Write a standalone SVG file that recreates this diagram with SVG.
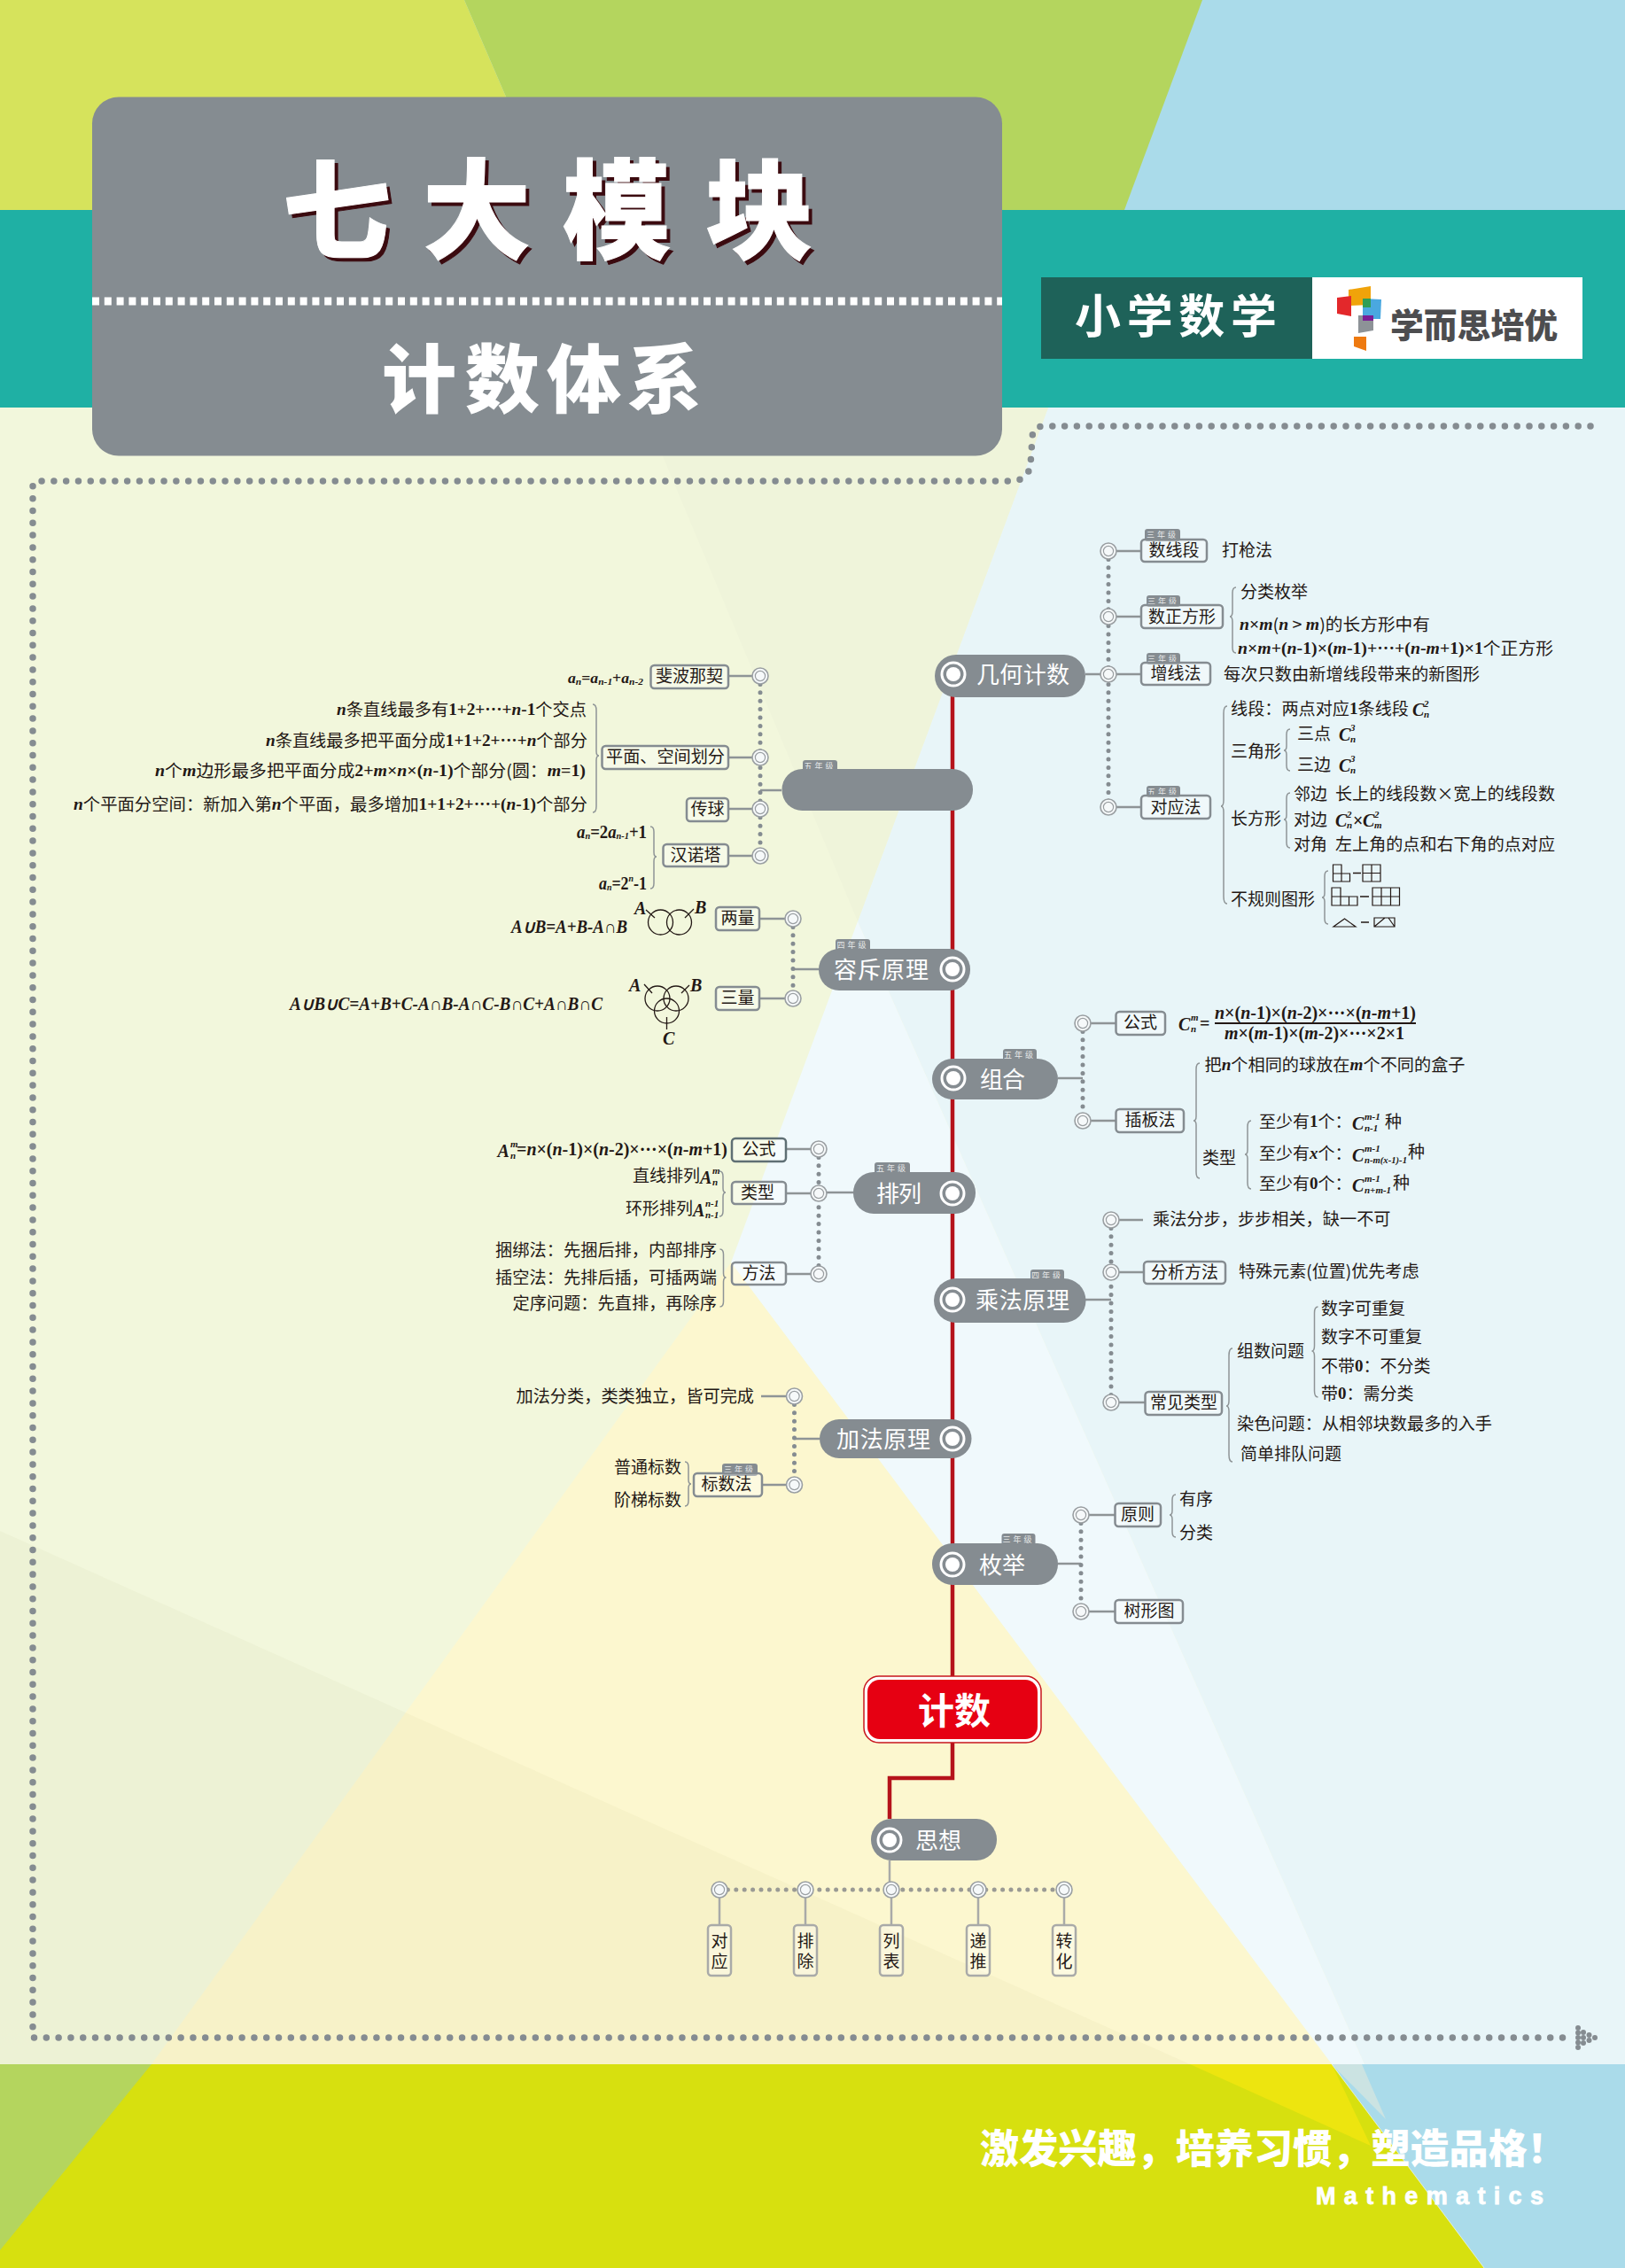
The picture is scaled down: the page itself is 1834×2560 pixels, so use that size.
<svg xmlns="http://www.w3.org/2000/svg" width="1834" height="2560" viewBox="0 0 1834 2560">
<style>
text{font-family:"Noto Sans CJK SC","Noto Sans",sans-serif;dominant-baseline:central}
.t{font-size:19px;fill:#231815;transform:translate(0,-1.5px)}
.c{text-anchor:middle}
.m{font-family:"Liberation Serif",serif;font-weight:bold;font-style:italic}
.n{font-family:"Liberation Serif",serif;font-weight:bold}
.s{font-family:"Liberation Serif",serif;font-weight:bold;font-style:italic;font-size:11px;fill:#231815}
.mt{font-size:20px;fill:#231815}
.w{fill:#fff}
.pt{font-size:26px;fill:#fff;transform:translate(0,-2px)}
.bx{fill:#fff;fill-opacity:.35;stroke:#858c91;stroke-width:2.5}
.pill{fill:#858c91}
.tag{fill:#858c91}
.tt{font-size:9px;fill:#e6e8e8;text-anchor:middle;letter-spacing:3px}
.ln{stroke:#8e9496;stroke-width:2.5;fill:none}
.dt{stroke:#858c91;stroke-width:5;fill:none;stroke-dasharray:0 9.4;stroke-linecap:round}
.br{fill:none;stroke:#8e9496;stroke-width:1.5}
.k{fill:none;stroke:#231815;stroke-width:1.3}
.g{fill:none;stroke:#231815;stroke-width:1.2}
.fd{fill:#858c91}
</style>
<defs>
<g id="ring"><circle r="9" fill="#f6f9fa" stroke="#9a9fa2" stroke-width="1.6"/><circle r="5.6" fill="#f6f9fa" stroke="#9a9fa2" stroke-width="1.2"/></g>
<g id="tgt"><circle r="13" fill="none" stroke="#fff" stroke-width="3"/><circle r="8" fill="#fff"/></g>
</defs>

<g id="background">
<rect width="1834" height="237" fill="#aadbea"/>
<polygon points="524,0 1357,0 1269,237 626,237" fill="#b4d55e"/>
<polygon points="0,0 524,0 626,237 0,237" fill="#d6e35c"/>
<rect y="237" width="1834" height="223" fill="#1fb0a4"/>
<rect y="460" width="1834" height="1870" fill="#f2f7dc"/>
<polygon points="1183,460 1834,460 1834,2330 1540,2330 968,1040" fill="#e8f5f8"/>
<polygon points="725,460 1183,460 968,1040" fill="#eff4da"/>
<polygon points="968,1040 1540,2330 1503,2330 825,1425" fill="#f0f9fc"/>
<polygon points="825,1425 1503,2330 171,2330" fill="#fcf7cf"/>
<polygon points="0,1728 1343,2330 0,2330" fill="#7d7d20" fill-opacity=".035"/>
<rect y="2330" width="1834" height="230" fill="#d7e00f"/>
<polygon points="1503,2330 1834,2330 1834,2560 1675,2560" fill="#aadbea"/>
<polygon points="1503,2330 1537,2330 1564,2392" fill="#cbe3e2"/>
<polygon points="1343,2330 1503,2330 1547,2422" fill="#ede50f"/>
<polygon points="0,2330 171,2330 0,2540" fill="#b4d55e"/>
<line x1="1503" y1="2330" x2="1675" y2="2560" stroke="#fff" stroke-opacity=".6"/>
</g>

<g id="frame">
<path d="M1795 481L1178 481Q1165 481 1165 495L1163 525Q1160 543 1140 543L41 543Q37 543 37 550L37 2300L1771 2300" fill="none" stroke="#858c91" stroke-width="7.5" stroke-dasharray="0 13.8" stroke-linecap="round"/>
<g class="fd"><circle cx="1781" cy="2289" r="3"/><circle cx="1781" cy="2294.500" r="3"/><circle cx="1781" cy="2300" r="3"/><circle cx="1781" cy="2305.500" r="3"/><circle cx="1781" cy="2311" r="3"/><circle cx="1787" cy="2294" r="3"/><circle cx="1787" cy="2300" r="3"/><circle cx="1787" cy="2306" r="3"/><circle cx="1793.500" cy="2297" r="3"/><circle cx="1793.500" cy="2303" r="3"/><circle cx="1800" cy="2300" r="3"/></g>
</g>

<g id="title">
<rect x="104" y="109.500" width="1027" height="405" rx="30" fill="#858c91"/>
<g font-size="122" font-weight="900" fill="#3b0a0f" stroke="#3b0a0f" stroke-width="1">
<text x="384" y="232" class="c">七</text><text x="542" y="232" class="c">大</text><text x="700" y="232" class="c">模</text><text x="861" y="232" class="c">块</text></g>
<g font-size="122" font-weight="900" fill="#fff" stroke="#fff" stroke-width="1">
<text x="380" y="228" class="c">七</text><text x="538" y="228" class="c">大</text><text x="696" y="228" class="c">模</text><text x="857" y="228" class="c">块</text></g>
<line x1="104" y1="340" x2="1131" y2="340" stroke="#fff" stroke-width="9" stroke-dasharray="8 5.800"/>
<g font-size="84" font-weight="900" fill="#fff"><text x="473" y="422" class="c">计</text><text x="567" y="422" class="c">数</text><text x="659" y="422" class="c">体</text><text x="750" y="422" class="c">系</text></g>
</g>

<g id="badge">
<rect x="1175" y="313" width="306" height="92" fill="#1e6259"/>
<rect x="1481" y="313" width="305" height="92" fill="#fff"/>
<text x="1327" y="353" class="c" font-size="52" font-weight="700" fill="#fff" textLength="228" lengthAdjust="spacing">小学数学</text>
<polygon points="1522,327 1547,323 1547,344 1522,345" fill="#f0a30a"/>
<polygon points="1509,336 1525,334 1525,357 1509,354" fill="#e3282b"/>
<polygon points="1538,337 1559,338 1558,360 1538,360" fill="#4aa8e0"/>
<polygon points="1538,337 1547,337 1547,347 1538,347" fill="#2f9e55"/>
<polygon points="1533,356 1550,356 1550,373 1533,376" fill="#8d9297"/>
<polygon points="1538,356 1550,356 1550,362 1538,362" fill="#7a1d96"/>
<polygon points="1528,380 1542,380 1542,396 1528,391" fill="#ee7a10"/>
<text x="1569" y="364" font-size="38" font-weight="900" fill="#4d4d4f" textLength="189" lengthAdjust="spacingAndGlyphs">学而思培优</text>
</g>

<g id="connectors">
<path d="M1075 763V1892M1075 1967V2007H1004V2053" fill="none" stroke="#b5131b" stroke-width="4.500"/>
<g class="ln">
<path d="M1225 761H1288M1251 622H1288M1251 696H1288M1251 911H1288"/>
<path d="M882 892H858M858 763H822M858 855H822M858 913H822M858 966H822"/>
<path d="M924 1094H895M895 1037H857M895 1127H857"/>
<path d="M1194 1217H1222M1222 1155H1260M1222 1265H1260"/>
<path d="M963 1346H924M924 1297H887M924 1347H887M924 1438H887"/>
<path d="M1225 1467H1254M1254 1377H1290M1254 1436H1291M1254 1583H1292"/>
<path d="M925 1624H896.500M896.500 1576H859M896.500 1676H860"/>
<path d="M1194 1765H1220M1220 1710H1259M1220 1819H1259"/>
</g>
<g class="dt">
<path d="M1251 622V911"/><path d="M858 763V966"/><path d="M895 1037V1127"/><path d="M1222 1155V1265"/><path d="M924 1297V1438"/><path d="M1254 1377V1583"/><path d="M896.500 1576V1676"/><path d="M1220 1710V1819"/>
<path d="M812 2133H1201" stroke="#9a9a94"/>
</g>
<path d="M1004 2100V2133M812 2133V2173M909 2133V2173M1006 2133V2173M1104 2133V2173M1201 2133V2173" fill="none" stroke="#a9aaa8" stroke-width="2.500"/>
</g>

<g id="node-jishu">
<rect x="975" y="1892" width="200" height="75" rx="17" fill="#fff" stroke="#c8161d" stroke-width="1.500"/>
<rect x="979" y="1896" width="192" height="67" rx="14" fill="#e60012"/>
<text x="1077" y="1928" class="c" font-size="41" font-weight="700" fill="#fff">计数</text>
</g>

<g id="node-jihe">
<rect x="1055" y="739" width="170" height="48" rx="24" class="pill"/><use href="#tgt" x="1076" y="761"/>
<text x="1102" y="761" class="pt" textLength="105">几何计数</text>
<use href="#ring" x="1251" y="622"/><use href="#ring" x="1251" y="696"/><use href="#ring" x="1251" y="761"/><use href="#ring" x="1251" y="911"/>
<rect x="1292" y="597" width="40" height="14" rx="3" class="tag"/><text x="1312" y="603" class="tt">三年级</text>
<rect x="1288" y="609" width="74" height="25" rx="4" class="bx"/><text x="1325" y="621" class="t c">数线段</text>
<text x="1379" y="621" class="t">打枪法</text>
<rect x="1294" y="672" width="38" height="13" rx="3" class="tag"/><text x="1313" y="678" class="tt">三年级</text>
<rect x="1288" y="683" width="92" height="26" rx="4" class="bx"/><text x="1334" y="696" class="t c">数正方形</text>
<path class="br" d="M1395 663Q1391 663 1391 669V690Q1391 696 1388 696Q1391 696 1391 702V731Q1391 737 1395 737"/>
<text x="1400" y="668" class="t">分类枚举</text>
<text x="1399" y="705" class="t" textLength="215" lengthAdjust="spacingAndGlyphs"><tspan class="m">n</tspan><tspan class="n">×</tspan><tspan class="m">m</tspan>(<tspan class="m">n</tspan> &gt; <tspan class="m">m</tspan>)的长方形中有</text>
<text x="1397" y="732" class="t" textLength="356" lengthAdjust="spacingAndGlyphs"><tspan class="m">n</tspan><tspan class="n">×</tspan><tspan class="m">m</tspan><tspan class="n">+(</tspan><tspan class="m">n</tspan><tspan class="n">-1)×(</tspan><tspan class="m">m</tspan><tspan class="n">-1)+···+(</tspan><tspan class="m">n</tspan><tspan class="n">-</tspan><tspan class="m">m</tspan><tspan class="n">+1)×1</tspan>个正方形</text>
<rect x="1294" y="737" width="38" height="13" rx="3" class="tag"/><text x="1313" y="743" class="tt">三年级</text>
<rect x="1288" y="748" width="78" height="25" rx="4" class="bx"/><text x="1327" y="760" class="t c">增线法</text>
<text x="1381" y="761" class="t" textLength="289" lengthAdjust="spacingAndGlyphs">每次只数由新增线段带来的新图形</text>
<rect x="1294" y="887" width="38" height="13" rx="3" class="tag"/><text x="1313" y="893" class="tt">五年级</text>
<rect x="1288" y="898" width="78" height="26" rx="4" class="bx"/><text x="1327" y="911" class="t c">对应法</text>
<path class="br" d="M1385 797Q1381 797 1381 805V903Q1381 910 1378 910Q1381 910 1381 917V1012Q1381 1020 1385 1020"/>
<text x="1389" y="800" class="t" textLength="201" lengthAdjust="spacingAndGlyphs">线段：两点对应<tspan class="n">1</tspan>条线段</text>
<text x="1594" y="801" class="m mt">C</text><text x="1607" y="794" class="s">2</text><text x="1607" y="806" class="s">n</text>
<text x="1389" y="848" class="t">三角形</text>
<path class="br" d="M1456 823Q1452 823 1452 829V842Q1452 847 1449 847Q1452 847 1452 852V864Q1452 870 1456 870"/>
<text x="1464" y="828" class="t">三点</text><text x="1511" y="829" class="m mt">C</text><text x="1524" y="821" class="s">3</text><text x="1524" y="834" class="s">n</text>
<text x="1464" y="863" class="t">三边</text><text x="1511" y="864" class="m mt">C</text><text x="1524" y="856" class="s">3</text><text x="1524" y="869" class="s">n</text>
<text x="1389" y="924" class="t">长方形</text>
<path class="br" d="M1456 895Q1452 895 1452 901V920Q1452 925 1449 925Q1452 925 1452 930V951Q1452 957 1456 957"/>
<text x="1460" y="896" class="t">邻边</text><text x="1507" y="896" class="t" textLength="248" lengthAdjust="spacingAndGlyphs">长上的线段数×宽上的线段数</text>
<text x="1460" y="925" class="t">对边</text><text x="1507" y="926" class="m mt">C</text><text x="1520" y="919" class="s">2</text><text x="1520" y="931" class="s">n</text><text x="1527" y="926" class="n mt">×</text><text x="1538" y="926" class="m mt">C</text><text x="1551" y="919" class="s">2</text><text x="1551" y="931" class="s">m</text>
<text x="1460" y="953" class="t">对角</text><text x="1507" y="953" class="t" textLength="248" lengthAdjust="spacingAndGlyphs">左上角的点和右下角的点对应</text>
<text x="1389" y="1015" class="t">不规则图形</text>
<path class="br" d="M1499 983Q1495 983 1495 989V1008Q1495 1013 1492 1013Q1495 1013 1495 1018V1037Q1495 1043 1499 1043"/>
<path class="g" d="M1504.500 976H1514V995H1504.500ZM1504.500 986H1523.500V995H1504.500ZM1538 976H1558V995H1538ZM1548 976V995M1538 985.500H1558"/>
<path class="g" d="M1503 1002H1513V1022H1503ZM1503 1012H1532V1022H1503ZM1522.500 1012V1022M1549 1002H1579.500V1022H1549ZM1559 1002V1022M1569.500 1002V1022M1549 1012H1579.500"/>
<path class="g" d="M1505 1046H1530L1517.500 1037ZM1551 1036H1574V1046H1551ZM1551 1046L1563 1036M1574 1046L1567 1036"/>
<path d="M1527 985.500H1536M1535 1012H1545M1536 1041H1545" stroke="#231815" stroke-width="1.500" fill="none"/>
</g>

<g id="node-digui">
<rect x="906" y="858" width="39" height="14" rx="3" class="tag"/><text x="925.500" y="864" class="tt">五年级</text>
<rect x="882.500" y="868" width="215.500" height="47" rx="23" class="pill"/>
<use href="#ring" x="858" y="763"/><use href="#ring" x="858" y="855"/><use href="#ring" x="858" y="913"/><use href="#ring" x="858" y="966"/>
<rect x="734.500" y="751" width="87.500" height="26" rx="4" class="bx"/><text x="778" y="763" class="t c">斐波那契</text>
<text x="641" y="765" font-size="17" fill="#231815" textLength="85" lengthAdjust="spacingAndGlyphs"><tspan class="m">a</tspan><tspan class="s" dy="4">n</tspan><tspan class="n" dy="-4">=</tspan><tspan class="m">a</tspan><tspan class="s" dy="4">n-1</tspan><tspan class="n" dy="-4">+</tspan><tspan class="m">a</tspan><tspan class="s" dy="4">n-2</tspan></text>
<rect x="679.500" y="842" width="142.500" height="26" rx="4" class="bx"/><text x="751" y="854" class="t c" textLength="134" lengthAdjust="spacingAndGlyphs">平面、空间划分</text>
<text x="380" y="801" class="t" textLength="282" lengthAdjust="spacingAndGlyphs"><tspan class="m">n</tspan>条直线最多有<tspan class="n">1+2+···+</tspan><tspan class="m">n</tspan><tspan class="n">-1</tspan>个交点</text>
<text x="300" y="836" class="t" textLength="363" lengthAdjust="spacingAndGlyphs"><tspan class="m">n</tspan>条直线最多把平面分成<tspan class="n">1+1+2+···+</tspan><tspan class="m">n</tspan>个部分</text>
<text x="175" y="870" class="t" textLength="486" lengthAdjust="spacingAndGlyphs"><tspan class="m">n</tspan>个<tspan class="m">m</tspan>边形最多把平面分成<tspan class="n">2+</tspan><tspan class="m">m</tspan><tspan class="n">×</tspan><tspan class="m">n</tspan><tspan class="n">×(</tspan><tspan class="m">n</tspan><tspan class="n">-1)</tspan>个部分(圆：<tspan class="m">m</tspan><tspan class="n">=1)</tspan></text>
<text x="83" y="908" class="t" textLength="580" lengthAdjust="spacingAndGlyphs"><tspan class="m">n</tspan>个平面分空间：新加入第<tspan class="m">n</tspan>个平面，最多增加<tspan class="n">1+1+2+···+(</tspan><tspan class="m">n</tspan><tspan class="n">-1)</tspan>个部分</text>
<path class="br" d="M669 795Q673 795 673 802V848Q673 853 676 853Q673 853 673 858V910Q673 917 669 917"/>
<rect x="775" y="901" width="47" height="26" rx="4" class="bx"/><text x="798.500" y="913" class="t c">传球</text>
<rect x="748.500" y="953" width="73.500" height="25" rx="4" class="bx"/><text x="785" y="965" class="t c">汉诺塔</text>
<text x="651" y="939" font-size="20" fill="#231815" textLength="79" lengthAdjust="spacingAndGlyphs"><tspan class="m">a</tspan><tspan class="s" dy="4">n</tspan><tspan class="n" dy="-4">=2</tspan><tspan class="m">a</tspan><tspan class="s" dy="4">n-1</tspan><tspan class="n" dy="-4">+1</tspan></text>
<text x="676" y="997" font-size="20" fill="#231815" textLength="54" lengthAdjust="spacingAndGlyphs"><tspan class="m">a</tspan><tspan class="s" dy="4">n</tspan><tspan class="n" dy="-4">=2</tspan><tspan class="s" dy="-6">n</tspan><tspan class="n" dy="6">-1</tspan></text>
<path class="br" d="M734 933Q738 933 738 939V962Q738 967 741 967Q738 967 738 972V997Q738 1003 734 1003"/>
</g>

<g id="node-rongchi">
<rect x="943" y="1060" width="39" height="14" rx="3" class="tag"/><text x="962.500" y="1066" class="tt">四年级</text>
<rect x="924" y="1071" width="171" height="47" rx="23" class="pill"/><use href="#tgt" x="1075" y="1094"/>
<text x="941" y="1094" class="pt" textLength="107">容斥原理</text>
<use href="#ring" x="895" y="1037"/><use href="#ring" x="895" y="1127"/>
<rect x="808" y="1024" width="49" height="26" rx="4" class="bx"/><text x="832.500" y="1036" class="t c">两量</text>
<rect x="808" y="1114" width="49" height="26" rx="4" class="bx"/><text x="832.500" y="1126" class="t c">三量</text>
<text x="577" y="1046" class="m mt" textLength="131" lengthAdjust="spacingAndGlyphs">A∪B=A+B-A∩B</text>
<circle cx="745.500" cy="1041" r="14" class="k"/><circle cx="766.500" cy="1041" r="14" class="k"/>
<path class="k" d="M739 1036L729 1027M773 1036L783 1026"/>
<text x="716" y="1025" class="m mt">A</text><text x="784" y="1024" class="m mt">B</text>
<text x="327" y="1133" class="m mt" textLength="353" lengthAdjust="spacingAndGlyphs">A∪B∪C=A+B+C-A∩B-A∩C-B∩C+A∩B∩C</text>
<circle cx="742" cy="1127" r="14" class="k"/><circle cx="763" cy="1127" r="14" class="k"/><circle cx="752.500" cy="1141" r="14" class="k"/>
<path class="k" d="M736 1121L727 1111M769 1121L778 1112M752.500 1148V1162"/>
<text x="710" y="1112" class="m mt">A</text><text x="779" y="1112" class="m mt">B</text><text x="748" y="1172" class="m mt">C</text>
</g>

<g id="node-zuhe">
<rect x="1132" y="1184" width="38" height="14" rx="3" class="tag"/><text x="1151" y="1190" class="tt">五年级</text>
<rect x="1052" y="1195" width="142" height="46" rx="23" class="pill"/><use href="#tgt" x="1076" y="1217"/>
<text x="1106" y="1218" class="pt" textLength="51">组合</text>
<use href="#ring" x="1222" y="1155"/><use href="#ring" x="1222" y="1265"/>
<rect x="1259.500" y="1142" width="55.500" height="26" rx="4" class="bx"/><text x="1287" y="1154" class="t c">公式</text>
<rect x="1259.500" y="1252" width="76.500" height="26" rx="4" class="bx"/><text x="1298" y="1264" class="t c">插板法</text>
<text x="1330" y="1156" class="m mt">C</text><text x="1344" y="1148" class="s">m</text><text x="1344" y="1161" class="s">n</text><text x="1354" y="1155" class="n mt">=</text>
<text x="1371" y="1143" class="mt" textLength="227" lengthAdjust="spacingAndGlyphs"><tspan class="m">n</tspan><tspan class="n">×(</tspan><tspan class="m">n</tspan><tspan class="n">-1)×(</tspan><tspan class="m">n</tspan><tspan class="n">-2)×···×(</tspan><tspan class="m">n</tspan><tspan class="n">-</tspan><tspan class="m">m</tspan><tspan class="n">+1)</tspan></text>
<line x1="1371" y1="1155" x2="1598" y2="1155" stroke="#231815" stroke-width="1.800"/>
<text x="1382" y="1166" class="mt" textLength="203" lengthAdjust="spacingAndGlyphs"><tspan class="m">m</tspan><tspan class="n">×(</tspan><tspan class="m">m</tspan><tspan class="n">-1)×(</tspan><tspan class="m">m</tspan><tspan class="n">-2)×···×2×1</tspan></text>
<path class="br" d="M1354 1200Q1350 1200 1350 1207V1260Q1350 1265 1347 1265Q1350 1265 1350 1270V1323Q1350 1330 1354 1330"/>
<text x="1359.500" y="1202" class="t" textLength="294" lengthAdjust="spacingAndGlyphs">把<tspan class="m">n</tspan>个相同的球放在<tspan class="m">m</tspan>个不同的盒子</text>
<text x="1357" y="1307" class="t">类型</text>
<path class="br" d="M1412 1265Q1408 1265 1408 1272V1298Q1408 1303 1405 1303Q1408 1303 1408 1308V1335Q1408 1342 1412 1342"/>
<text x="1421" y="1266" class="t">至少有<tspan class="n">1</tspan>个：</text><text x="1526" y="1268" class="m mt">C</text><text x="1540" y="1260" class="s">m-1</text><text x="1540" y="1273" class="s">n-1</text><text x="1563" y="1266" class="t">种</text>
<text x="1421" y="1302" class="t">至少有<tspan class="m">x</tspan>个：</text><text x="1526" y="1304" class="m mt">C</text><text x="1540" y="1296" class="s">m-1</text><text x="1540" y="1309" class="s" textLength="48" lengthAdjust="spacingAndGlyphs">n-m(x-1)-1</text><text x="1589" y="1300" class="t">种</text>
<text x="1421" y="1336" class="t">至少有<tspan class="n">0</tspan>个：</text><text x="1526" y="1338" class="m mt">C</text><text x="1540" y="1330" class="s">m-1</text><text x="1540" y="1343" class="s">n+m-1</text><text x="1572" y="1335" class="t">种</text>
</g>

<g id="node-pailie">
<rect x="987" y="1312" width="40" height="14" rx="3" class="tag"/><text x="1007" y="1318" class="tt">五年级</text>
<rect x="963" y="1323" width="138" height="47" rx="23" class="pill"/><use href="#tgt" x="1075" y="1347"/>
<text x="989" y="1347" class="pt" textLength="51">排列</text>
<use href="#ring" x="924" y="1297"/><use href="#ring" x="924" y="1347"/><use href="#ring" x="924" y="1438"/>
<rect x="826" y="1285" width="61" height="26" rx="4" class="bx" style="stroke:#5f6f74"/><text x="856.500" y="1297" class="t c">公式</text>
<rect x="826" y="1334" width="61" height="25" rx="4" class="bx"/><text x="855" y="1346" class="t c">类型</text>
<rect x="826" y="1425" width="61" height="25" rx="4" class="bx"/><text x="856.500" y="1437" class="t c">方法</text>
<text x="561.500" y="1299" class="m mt">A</text><text x="576" y="1291" class="s">m</text><text x="576" y="1304" class="s">n</text>
<text x="583" y="1297" class="mt" textLength="238" lengthAdjust="spacingAndGlyphs"><tspan class="n">=</tspan><tspan class="m">n</tspan><tspan class="n">×(</tspan><tspan class="m">n</tspan><tspan class="n">-1)×(</tspan><tspan class="m">n</tspan><tspan class="n">-2)×···×(</tspan><tspan class="m">n</tspan><tspan class="n">-</tspan><tspan class="m">m</tspan><tspan class="n">+1)</tspan></text>
<text x="714" y="1327" class="t">直线排列</text><text x="790" y="1329" class="m mt">A</text><text x="804" y="1321" class="s">m</text><text x="804" y="1334" class="s">n</text>
<text x="706" y="1364" class="t">环形排列</text><text x="782" y="1366" class="m mt">A</text><text x="796" y="1358" class="s">n-1</text><text x="796" y="1371" class="s">n-1</text>
<path class="br" d="M812 1322Q816 1322 816 1328V1341Q816 1346 819 1346Q816 1346 816 1351V1367Q816 1373 812 1373"/>
<text x="559" y="1411" class="t" textLength="250" lengthAdjust="spacingAndGlyphs">捆绑法：先捆后排，内部排序</text>
<text x="559" y="1442" class="t" textLength="250" lengthAdjust="spacingAndGlyphs">插空法：先排后插，可插两端</text>
<text x="578.500" y="1471" class="t" textLength="230.500" lengthAdjust="spacingAndGlyphs">定序问题：先直排，再除序</text>
<path class="br" d="M812.500 1410Q816.500 1410 816.500 1416V1437Q816.500 1442 819.500 1442Q816.500 1442 816.500 1447V1469Q816.500 1475 812.500 1475"/>
</g>

<g id="node-chengfa">
<rect x="1163" y="1433" width="38" height="14" rx="3" class="tag"/><text x="1182" y="1439" class="tt">四年级</text>
<rect x="1054" y="1443" width="171.500" height="50" rx="25" class="pill"/><use href="#tgt" x="1075" y="1467"/>
<text x="1101" y="1467" class="pt" textLength="106">乘法原理</text>
<use href="#ring" x="1254" y="1377"/><use href="#ring" x="1254" y="1436"/><use href="#ring" x="1254" y="1583"/>
<text x="1301" y="1376" class="t" textLength="268.500" lengthAdjust="spacingAndGlyphs">乘法分步，步步相关，缺一不可</text>
<rect x="1291" y="1424" width="92" height="25" rx="4" class="bx"/><text x="1337" y="1436" class="t c">分析方法</text>
<text x="1398" y="1435" class="t" textLength="203.500" lengthAdjust="spacingAndGlyphs">特殊元素(位置)优先考虑</text>
<rect x="1292.500" y="1571" width="86.500" height="26" rx="4" class="bx"/><text x="1336" y="1583" class="t c">常见类型</text>
<path class="br" d="M1391 1522Q1387 1522 1387 1530V1581Q1387 1587 1384 1587Q1387 1587 1387 1593V1642Q1387 1650 1391 1650"/>
<text x="1396" y="1525" class="t">组数问题</text>
<path class="br" d="M1487.500 1475Q1483.500 1475 1483.500 1482V1519Q1483.500 1525 1480.500 1525Q1483.500 1525 1483.500 1531V1570Q1483.500 1577 1487.500 1577"/>
<text x="1491" y="1477" class="t">数字可重复</text>
<text x="1491" y="1509" class="t">数字不可重复</text>
<text x="1491" y="1542" class="t">不带<tspan class="n">0</tspan>：不分类</text>
<text x="1491" y="1573" class="t">带<tspan class="n">0</tspan>：需分类</text>
<text x="1396" y="1607" class="t" textLength="288" lengthAdjust="spacingAndGlyphs">染色问题：从相邻块数最多的入手</text>
<text x="1400" y="1641" class="t">简单排队问题</text>
</g>

<g id="node-jiafa">
<rect x="925" y="1602" width="171.500" height="44" rx="22" class="pill"/><use href="#tgt" x="1075" y="1624"/>
<text x="944" y="1624" class="pt" textLength="106">加法原理</text>
<use href="#ring" x="896.500" y="1576"/><use href="#ring" x="896.500" y="1676"/>
<text x="582.500" y="1576" class="t" textLength="268.500" lengthAdjust="spacingAndGlyphs">加法分类，类类独立，皆可完成</text>
<rect x="815" y="1652" width="40" height="14" rx="3" class="tag"/><text x="835" y="1658" class="tt">三年级</text>
<rect x="783" y="1663" width="77" height="26" rx="4" class="bx"/><text x="820" y="1675" class="t c">标数法</text>
<text x="693" y="1656" class="t">普通标数</text><text x="693" y="1693" class="t">阶梯标数</text>
<path class="br" d="M773 1650Q777 1650 777 1656V1670Q777 1675 780 1675Q777 1675 777 1680V1694Q777 1700 773 1700"/>
</g>

<g id="node-meiju">
<rect x="1130.500" y="1731" width="38" height="14" rx="3" class="tag"/><text x="1149.500" y="1737" class="tt">三年级</text>
<rect x="1052" y="1742" width="142" height="47" rx="23" class="pill"/><use href="#tgt" x="1075" y="1766"/>
<text x="1105" y="1766" class="pt" textLength="52">枚举</text>
<use href="#ring" x="1220" y="1710"/><use href="#ring" x="1220" y="1819"/>
<rect x="1258.500" y="1697" width="51.500" height="26" rx="4" class="bx"/><text x="1284" y="1709" class="t c">原则</text>
<rect x="1258.500" y="1806" width="76.500" height="26" rx="4" class="bx"/><text x="1297" y="1818" class="t c">树形图</text>
<path class="br" d="M1327 1687Q1323 1687 1323 1693V1705Q1323 1710 1320 1710Q1323 1710 1323 1715V1729Q1323 1735 1327 1735"/>
<text x="1331" y="1692" class="t">有序</text><text x="1331" y="1730" class="t">分类</text>
</g>

<g id="node-sixiang">
<rect x="983" y="2053" width="142" height="47" rx="23" class="pill"/><use href="#tgt" x="1004" y="2077"/>
<text x="1033" y="2075" font-size="26" fill="#fff">思想</text>
<use href="#ring" x="812" y="2133"/><use href="#ring" x="909" y="2133"/><use href="#ring" x="1006" y="2133"/><use href="#ring" x="1104" y="2133"/><use href="#ring" x="1201" y="2133"/>
<rect x="799" y="2173" width="26" height="57" rx="4" class="bx" style="stroke:#a9aaa8"/><text x="812" y="2191" class="t c">对</text><text x="812" y="2214" class="t c">应</text>
<rect x="896" y="2173" width="26" height="57" rx="4" class="bx" style="stroke:#a9aaa8"/><text x="909" y="2191" class="t c">排</text><text x="909" y="2214" class="t c">除</text>
<rect x="993" y="2173" width="26" height="57" rx="4" class="bx" style="stroke:#a9aaa8"/><text x="1006" y="2191" class="t c">列</text><text x="1006" y="2214" class="t c">表</text>
<rect x="1091" y="2173" width="26" height="57" rx="4" class="bx" style="stroke:#a9aaa8"/><text x="1104" y="2191" class="t c">递</text><text x="1104" y="2214" class="t c">推</text>
<rect x="1188" y="2173" width="26" height="57" rx="4" class="bx" style="stroke:#a9aaa8"/><text x="1201" y="2191" class="t c">转</text><text x="1201" y="2214" class="t c">化</text>
</g>

<g id="slogan">
<text x="1106" y="2422" font-size="45" font-weight="900" fill="#fff" textLength="662" lengthAdjust="spacingAndGlyphs">激发兴趣，培养习惯，塑造品格！</text>
<text x="1485" y="2479" font-size="27" font-weight="bold" fill="#fff" stroke="#fff" stroke-width=".8" style="font-family:'Liberation Sans',sans-serif" textLength="257">Mathematics</text>
</g>
</svg>
